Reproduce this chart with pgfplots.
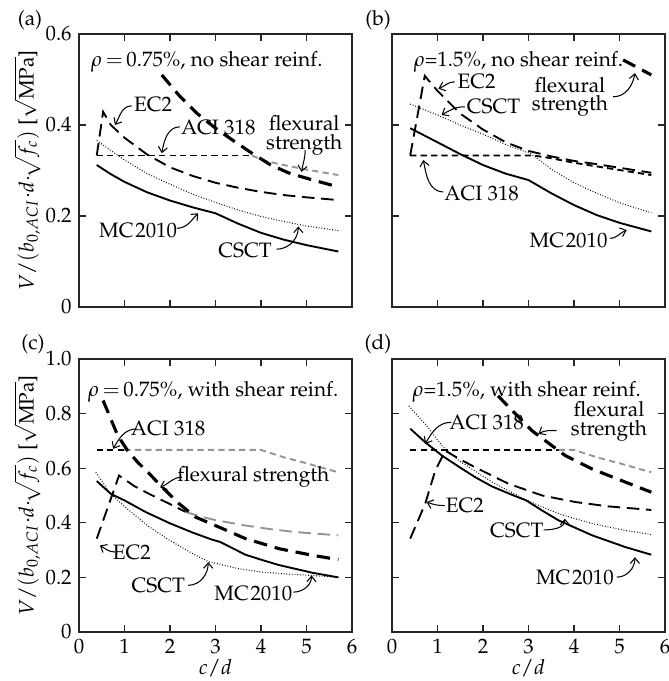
\documentclass[border=0pt]{standalone}
\usepackage[T1]{fontenc}
\usepackage{mathpazo}
\usepackage{pgfplots}
\pgfplotsset{compat=1.18}
\usetikzlibrary{arrows.meta}

\pgfplotsset{
  panel/.style={
    scale only axis, width=131.04pt, height=131.04pt,
    xmin=0, xmax=6, ymin=0,
    xtick={0,1,2,3,4,5,6},
    tick align=inside,
    major tick length=3.4pt,
    axis line style={line width=0.6pt, black!85},
    every tick/.style={black!85, line width=0.6pt},
    clip=false,
    tick label style={font=\normalsize},
  },
  mc/.style={black, line width=0.9pt, solid},
  cs/.style={black, line width=0.5pt, dash pattern=on 0.4pt off 0.9pt},
  ec/.style={black, line width=0.9pt, dash pattern=on 6pt off 3.2pt},
  aci/.style={black, line width=0.9pt, dash pattern=on 3pt off 2pt},
  fl/.style={black, line width=1.5pt, dash pattern=on 6.5pt off 3.8pt},
  gr/.style={black!42},
}
\tikzset{lab/.style={-{Straight Barb[length=2.6pt,width=4.4pt]}, line width=0.5pt},
  two/.style={align=center, font={\fontsize{10}{8.8}\selectfont}}}
\newcommand{\ylab}{$V/(b_{0,ACI}{\cdot}d{\cdot}\!\sqrt{f_c})$ [$\sqrt{\mathrm{MPa}}$]}

\begin{document}
\begin{tikzpicture}
\useasboundingbox (-37.92pt,-23.52pt) rectangle (283.2pt,303.36pt);

% ---------------- (a)
\begin{axis}[panel, at={(0pt,156pt)}, anchor=south west,
  ymax=0.6, ytick={0,0.2,0.4,0.6}, yticklabels={0,0.2,0.4,0.6}, xticklabels={},
  ylabel={\ylab},
  ylabel style={at={(axis description cs:-0.19,0.5)}, anchor=center}]
\addplot[mc] coordinates {(0.39,0.312)(0.7,0.292)(1,0.275)(1.5,0.252)(2,0.234)(2.5,0.219)(3,0.206)(3.5,0.183)(4,0.163)(4.5,0.148)(5,0.136)(5.7,0.122)};
\addplot[cs] coordinates {(0.39,0.366)(0.7,0.344)(1,0.323)(1.5,0.293)(2,0.270)(2.5,0.248)(3,0.230)(3.5,0.213)(4,0.199)(4.5,0.188)(5,0.178)(5.7,0.168)};
\addplot[ec] coordinates {(0.39,0.333)(0.53,0.429)(0.7,0.40)(1,0.372)(1.5,0.335)(2,0.307)(2.5,0.288)(3,0.273)(3.5,0.262)(4,0.253)(4.5,0.246)(5,0.241)(5.7,0.235)};
\addplot[aci] coordinates {(0.39,0.333)(3.8,0.333)};
\addplot[aci,gr] coordinates {(3.8,0.333)(4.05,0.322)(4.5,0.312)(5,0.302)(5.7,0.29)};
\addplot[fl] coordinates {(1.82,0.51)(2.2,0.465)(2.6,0.425)(3,0.393)(3.4,0.365)(3.8,0.338)(4.2,0.313)(4.6,0.295)(5.0,0.283)(5.4,0.272)(5.7,0.264)};
\node at (axis cs:2.81,0.539) {$\rho\,{=}\,$0.75\%, no shear reinf.};
\node at (axis cs:1.63,0.444) {EC2};
\draw[lab] (axis cs:1.16,0.442) to[out=180,in=60] (axis cs:0.79,0.40);
\node at (axis cs:3.06,0.394) {ACI 318};
\draw[lab] (axis cs:2.22,0.396) to[out=180,in=80] (axis cs:1.82,0.338);
\node[two] at (axis cs:4.95,0.377) {flexural\\strength};
\draw[lab] (axis cs:4.97,0.345) to[out=-90,in=80] (axis cs:4.89,0.297);
\node at (axis cs:1.30,0.169) {MC\kern0.8pt2010};
\draw[lab] (axis cs:2.15,0.173) to[out=0,in=225] (axis cs:2.62,0.206);
\node at (axis cs:3.65,0.125) {CSCT};
\draw[lab] (axis cs:4.34,0.127) to[out=0,in=-90] (axis cs:4.82,0.177);
\node[xshift=-23.5pt, yshift=6.7pt] at (rel axis cs:0,1) {(a)};
\end{axis}

% ---------------- (b)
\begin{axis}[panel, at={(150.24pt,156pt)}, anchor=south west,
  ymax=0.6, ytick={0,0.2,0.4,0.6}, yticklabels={}, xticklabels={}]
\addplot[mc] coordinates {(0.4,0.393)(1,0.362)(1.5,0.336)(2,0.312)(2.5,0.293)(3,0.279)(3.5,0.25)(4,0.224)(4.5,0.202)(5,0.185)(5.7,0.166)};
\addplot[cs] coordinates {(0.4,0.446)(1,0.422)(1.5,0.40)(2,0.38)(2.5,0.357)(3.05,0.337)(3.5,0.303)(4,0.273)(4.5,0.25)(5,0.229)(5.7,0.207)};
\addplot[ec] coordinates {(0.4,0.333)(0.72,0.508)(1,0.475)(1.5,0.425)(2,0.39)(2.5,0.362)(3,0.343)(3.5,0.331)(4,0.321)(4.5,0.314)(5,0.306)(5.7,0.295)};
\addplot[aci] coordinates {(0.4,0.333)(3.1,0.333)(3.5,0.327)(4,0.317)(4.5,0.309)(5,0.301)(5.7,0.29)};
\addplot[fl] coordinates {(5.08,0.543)(5.7,0.51)};
\node at (axis cs:2.78,0.539) {$\rho$=1.5\%, no shear reinf.};
\node at (axis cs:1.86,0.495) {EC2};
\draw[lab] (axis cs:1.38,0.495) to[out=180,in=20] (axis cs:1.02,0.48);
\node at (axis cs:2.23,0.44) {CSCT};
\draw[lab] (axis cs:1.60,0.44) to[out=180,in=30] (axis cs:1.09,0.422);
\node[two] at (axis cs:3.91,0.462) {flexural\\strength};
\draw[lab] (axis cs:4.86,0.462) to[out=0,in=-100] (axis cs:5.34,0.514);
\node at (axis cs:1.97,0.25) {ACI 318};
\draw[lab] (axis cs:1.13,0.253) to[out=180,in=-80] (axis cs:0.69,0.323);
\node at (axis cs:3.88,0.147) {MC\kern0.8pt2010};
\draw[lab] (axis cs:4.79,0.151) to[out=0,in=200] (axis cs:5.16,0.169);
\node[xshift=-6.7pt, yshift=6.7pt] at (rel axis cs:0,1) {(b)};
\end{axis}

% ---------------- (c)
\begin{axis}[panel, at={(0pt,0pt)}, anchor=south west,
  ymax=1, ytick={0,0.2,0.4,0.6,0.8,1}, yticklabels={0,0.2,0.4,0.6,0.8,1.0},
  ylabel={\ylab},
  ylabel style={at={(axis description cs:-0.19,0.5)}, anchor=center},
  xlabel={$c/d$}, xlabel style={at={(axis description cs:0.5,-0.131)}, anchor=center}]
\addplot[mc] coordinates {(0.39,0.553)(0.7,0.506)(1,0.482)(1.47,0.439)(2,0.398)(2.5,0.364)(2.93,0.338)(3.1,0.33)(3.66,0.283)(4,0.265)(4.4,0.245)(5.13,0.217)(5.7,0.2)};
\addplot[cs] coordinates {(0.37,0.585)(0.7,0.506)(1,0.46)(1.5,0.39)(2,0.335)(2.5,0.287)(2.84,0.258)(3.5,0.232)(4,0.22)(4.5,0.213)(5.13,0.207)(5.7,0.2)};
\addplot[ec] coordinates {(0.39,0.342)(0.88,0.573)(1.21,0.535)(1.54,0.506)(1.98,0.47)(2.34,0.44)};
\addplot[ec,gr] coordinates {(2.34,0.44)(2.71,0.421)(3.0,0.41)(3.66,0.39)(4.2,0.377)(4.76,0.366)(5.7,0.354)};
\addplot[aci] coordinates {(0.39,0.667)(1.0,0.667)};
\addplot[aci,gr] coordinates {(1.0,0.667)(4.0,0.667)(4.5,0.64)(5,0.618)(5.7,0.585)};
\addplot[fl] coordinates {(0.53,0.848)(0.7,0.78)(0.85,0.72)(1.07,0.664)(1.3,0.62)(1.5,0.588)(1.83,0.53)(2.2,0.47)(2.56,0.421)(3.08,0.384)(3.66,0.342)(4.4,0.305)(5.13,0.281)(5.7,0.265)};
\node at (axis cs:2.95,0.878) {$\rho\,{=}\,$0.75\%, with shear reinf.};
\node at (axis cs:1.96,0.744) {ACI 318};
\draw[lab] (axis cs:1.27,0.744) to[out=180,in=60] (axis cs:0.75,0.671);
\node at (axis cs:3.83,0.567) {flexural strength};
\draw[lab] (axis cs:2.26,0.567) to[out=180,in=20] (axis cs:1.78,0.53);
\node at (axis cs:1.16,0.293) {EC2};
\draw[lab] (axis cs:0.79,0.293) to[out=180,in=-30] (axis cs:0.46,0.317);
\node at (axis cs:1.74,0.171) {CSCT};
\draw[lab] (axis cs:2.40,0.171) to[out=0,in=-90] (axis cs:2.84,0.256);
\node at (axis cs:3.83,0.14) {MC\kern0.8pt2010};
\draw[lab] (axis cs:4.71,0.146) to[out=0,in=-90] (axis cs:5.11,0.207);
\node[xshift=-22.1pt, yshift=7.2pt] at (rel axis cs:0,1) {(c)};
\end{axis}

% ---------------- (d)
\begin{axis}[panel, at={(150.24pt,0pt)}, anchor=south west,
  ymax=1, ytick={0,0.2,0.4,0.6,0.8,1}, yticklabels={},
  xlabel={$c/d$}, xlabel style={at={(axis description cs:0.5,-0.131)}, anchor=center}]
\addplot[mc] coordinates {(0.4,0.745)(0.73,0.695)(1.1,0.646)(1.5,0.602)(1.83,0.567)(2.2,0.533)(2.6,0.505)(2.95,0.482)(3.3,0.445)(3.66,0.409)(4.4,0.354)(5.13,0.311)(5.7,0.283)};
\addplot[cs] coordinates {(0.37,0.828)(0.73,0.762)(1.1,0.682)(1.47,0.628)(2.2,0.549)(2.93,0.485)(3.66,0.433)(4.4,0.397)(5.13,0.372)(5.7,0.357)};
\addplot[ec] coordinates {(0.4,0.342)(0.73,0.47)(0.95,0.591)(1.17,0.664)(1.5,0.632)(1.83,0.603)(2.56,0.543)(3.3,0.50)(4.03,0.476)(4.76,0.46)(5.7,0.447)};
\addplot[aci] coordinates {(0.4,0.667)(3.66,0.667)};
\addplot[aci,gr] coordinates {(3.66,0.667)(4.0,0.667)(4.5,0.64)(5,0.618)(5.7,0.585)};
\addplot[fl] coordinates {(2.33,0.865)(2.65,0.81)(3.08,0.737)(3.52,0.682)(3.81,0.646)(4.4,0.597)(5.13,0.549)(5.7,0.512)};
\node at (axis cs:2.96,0.88) {$\rho$=1.5\%, with shear reinf.};
\node at (axis cs:2.08,0.768) {ACI 318};
\draw[lab] (axis cs:1.30,0.768) to[out=180,in=60] (axis cs:0.73,0.689);
\node[two] at (axis cs:4.77,0.772) {flexural\\strength};
\draw[lab] (axis cs:3.62,0.738) to[out=180,in=30] (axis cs:3.22,0.726);
\node at (axis cs:1.60,0.463) {EC2};
\draw[lab] (axis cs:1.16,0.463) to[out=180,in=-20] (axis cs:0.76,0.476);
\node at (axis cs:2.74,0.372) {CSCT};
\draw[lab] (axis cs:3.33,0.374) to[out=0,in=-90] (axis cs:3.80,0.415);
\node at (axis cs:4.02,0.201) {MC\kern0.8pt2010};
\draw[lab] (axis cs:4.94,0.201) to[out=0,in=-90] (axis cs:5.34,0.274);
\node[xshift=-6.7pt, yshift=7.2pt] at (rel axis cs:0,1) {(d)};
\end{axis}
\end{tikzpicture}
\end{document}
